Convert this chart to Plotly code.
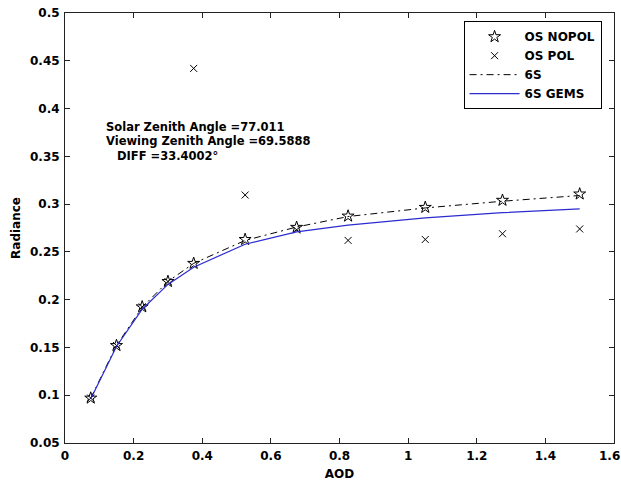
import plotly.graph_objects as go

# Aerosol optical depth sample points
aod = [0.075, 0.15, 0.225, 0.3, 0.375, 0.525, 0.675, 0.825, 1.05, 1.275, 1.5]

# Radiance from each model
os_nopol = [0.097, 0.152, 0.1925, 0.219, 0.238, 0.263, 0.2757, 0.2875, 0.2966, 0.304, 0.3106]
os_pol = [0.097, 0.152, 0.1925, 0.219, 0.442, 0.3095, 0.273, 0.262, 0.263, 0.269, 0.274]
six_s = [0.097, 0.152, 0.192, 0.219, 0.238, 0.262, 0.276, 0.287, 0.296, 0.303, 0.309]
six_s_gems = [0.096, 0.151, 0.19, 0.216, 0.234, 0.258, 0.271, 0.278, 0.2857, 0.291, 0.295]

x_ticks = [0, 0.2, 0.4, 0.6, 0.8, 1, 1.2, 1.4, 1.6]
x_tick_labels = ["0", "0.2", "0.4", "0.6", "0.8", "1", "1.2", "1.4", "1.6"]
y_ticks = [0.05, 0.1, 0.15, 0.2, 0.25, 0.3, 0.35, 0.4, 0.45, 0.5]

info_lines = [
    "Solar Zenith Angle =77.011",
    "Viewing Zenith Angle =69.5888",
    "DIFF =33.4002°",
]

FONT = "DejaVu Sans"
BOLD = dict(family=FONT, size=12, color="black", weight="bold")
NOTE = dict(family=FONT, size=11.5, color="black", weight="bold")

fig = go.Figure()
fig.add_trace(go.Scatter(
    x=aod, y=os_nopol, mode="markers", name="OS NOPOL",
    marker=dict(symbol="star-open", size=9, color="black", line=dict(width=1, color="black")),
))
fig.add_trace(go.Scatter(
    x=aod, y=os_pol, mode="markers", name="OS POL",
    marker=dict(symbol="x-thin-open", size=7, color="black", line=dict(width=1, color="black")),
))
fig.add_trace(go.Scatter(
    x=aod, y=six_s, mode="lines", name="6S",
    line=dict(color="black", width=1, dash="7px,4px,2px,4px"),
))
fig.add_trace(go.Scatter(
    x=aod, y=six_s_gems, mode="lines", name="6S GEMS",
    line=dict(color="#2b2bd0", width=1.2),
))

axis_common = dict(
    showline=True, linecolor="#222", linewidth=1, mirror="ticks",
    ticks="inside", ticklen=5, tickcolor="#222", showgrid=False, zeroline=False,
    tickfont=BOLD, ticklabelstandoff=2, automargin=False,
)

# The last x label sits at the page edge; it is drawn separately so it stays inside
x_axis_labels = x_tick_labels[:-1] + [""]

fig.update_layout(
    width=621, height=481,
    margin=dict(l=65, r=7, t=13, b=38),
    paper_bgcolor="white", plot_bgcolor="white",
    font=dict(family=FONT, color="black"),
    xaxis=dict(range=[0, 1.6], tickvals=x_ticks, ticktext=x_axis_labels,
               title=dict(text="AOD", font=BOLD, standoff=8),
               **axis_common),
    yaxis=dict(range=[0.05, 0.5], tickvals=y_ticks,
               title=dict(text="Radiance", font=BOLD, standoff=6),
               **axis_common),
    legend=dict(
        x=0.726, y=0.981, xanchor="left", yanchor="top",
        bordercolor="black", borderwidth=1, bgcolor="white",
        font=BOLD, itemwidth=50, tracegroupgap=0,
    ),
    showlegend=True,
)

fig.add_annotation(
    x=x_ticks[-1], y=0, xref="x", yref="paper", xanchor="right", yanchor="top",
    xshift=7, yshift=-5, text=x_tick_labels[-1], showarrow=False, font=BOLD,
    borderpad=0,
)

# Geometry notes, one annotation per line for tight spacing
info_pos = [(0.113, 0.381), (0.113, 0.366), (0.145, 0.3505)]
for txt, (ax, ay) in zip(info_lines, info_pos):
    fig.add_annotation(
        x=ax, y=ay, xref="x", yref="y", xanchor="left", yanchor="middle",
        text=txt, showarrow=False, font=NOTE,
    )

fig.write_html("out.html")
